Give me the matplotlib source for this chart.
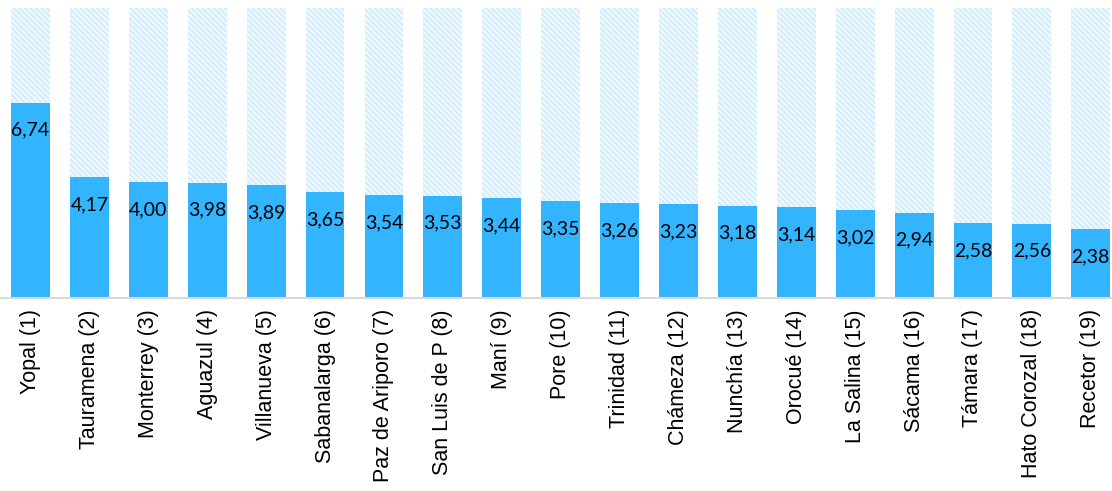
#import libraries
import matplotlib
matplotlib.use("Agg")
import matplotlib.pyplot as plt

#chart data
municipios = ["Yopal (1)", "Tauramena (2)", "Monterrey (3)", "Aguazul (4)", "Villanueva (5)",
              "Sabanalarga (6)", "Paz de Ariporo (7)", "San Luis de P (8)", "Maní (9)", "Pore (10)",
              "Trinidad (11)", "Chámeza (12)", "Nunchía (13)", "Orocué (14)", "La Salina (15)",
              "Sácama (16)", "Támara (17)", "Hato Corozal (18)", "Recetor (19)"]
valores = [6.74, 4.17, 4.00, 3.98, 3.89, 3.65, 3.54, 3.53, 3.44, 3.35,
           3.26, 3.23, 3.18, 3.14, 3.02, 2.94, 2.58, 2.56, 2.38]
maximo = [10] * len(valores)

plt.rcParams['hatch.linewidth'] = 2.0

fig = plt.figure(figsize=(11.12, 4.91), dpi=100)
ax = fig.add_axes([0, 1 - 298/491, 1, (298 - 8)/491])

x = range(len(valores))
#background hatched bars
ax.bar(x, maximo, width=0.66, color='white', edgecolor='#d6eefd', linewidth=0,
       hatch='\\\\\\\\\\\\', zorder=1)
#value bars
ax.bar(x, valores, width=0.66, color='#33b4ff', edgecolor='none', zorder=2)

for xi, v in zip(x, valores):
    ax.text(xi, v - 0.95, f"{v:.2f}".replace(".", ","), ha='center', va='center',
            fontsize=14, family='Lato', color='black', zorder=3)

ax.set_xlim(-0.518, 18.36)
ax.set_ylim(0, 10)
ax.set_yticks([])
ax.set_xticks(list(x))
ax.set_xticklabels(municipios, rotation=90, fontsize=15.5, family='Liberation Sans')
ax.tick_params(axis='x', length=0, pad=8)
for s in ['top', 'left', 'right']:
    ax.spines[s].set_visible(False)
ax.spines['bottom'].set_color('#d9d9d9')
ax.spines['bottom'].set_linewidth(1.5)

plt.savefig("out.png", dpi=100)
